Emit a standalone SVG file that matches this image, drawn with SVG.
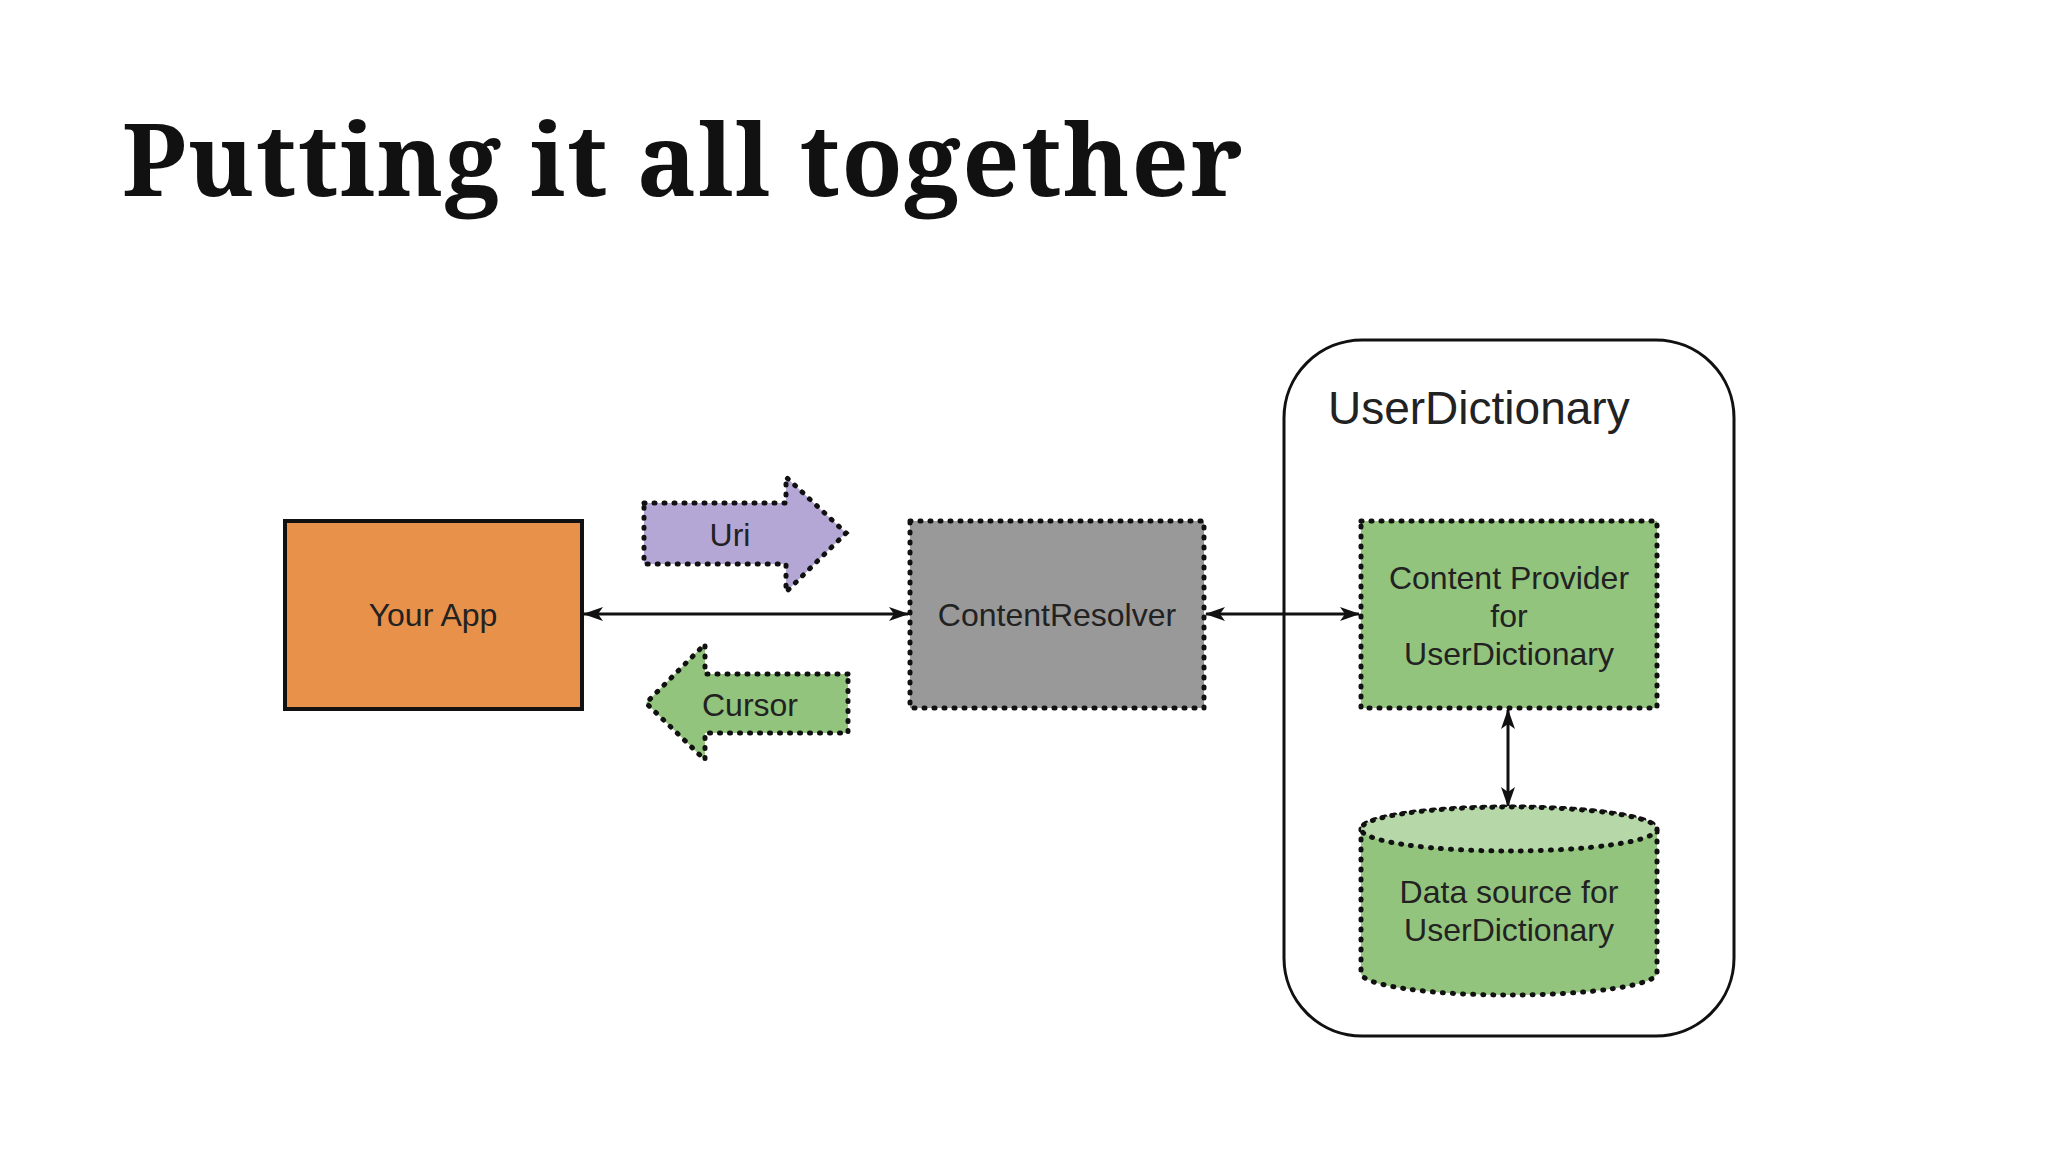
<svg xmlns="http://www.w3.org/2000/svg" width="2048" height="1152" viewBox="0 0 2048 1152">
<style>
.t{font-family:"Liberation Sans",Arial,sans-serif;font-size:32px;fill:#222;text-anchor:middle}
.dot{stroke:#111;stroke-width:5;stroke-dasharray:1 9;stroke-linecap:round}
.ln{stroke:#111;stroke-width:3;fill:none}
</style>
<defs>
<marker id="a" viewBox="0 0 20 16" refX="19" refY="8" markerWidth="20" markerHeight="16" orient="auto-start-reverse" markerUnits="userSpaceOnUse"><path d="M0,1 L20,8 L0,15 L5,8 z" fill="#111"/></marker>
</defs>
<rect width="2048" height="1152" fill="#fff"/>
<text x="122" y="196" font-family="'Noto Serif','DejaVu Serif',serif" font-weight="bold" font-size="100" letter-spacing="1.6" fill="#111">Putting it all together</text>
<g id="userdictionary">
<rect x="1284" y="340" width="450" height="696" rx="78" fill="#fff" stroke="#111" stroke-width="3"/>
<text x="1328" y="424" font-family="'Liberation Sans',Arial,sans-serif" font-size="46" fill="#222">UserDictionary</text>
</g>
<g id="yourapp">
<rect x="285" y="521" width="297" height="188" fill="#e8914a" stroke="#111" stroke-width="4"/>
<text class="t" x="433" y="626">Your App</text>
</g>
<g id="uri">
<path class="dot" d="M644,503 H786 V477 L846,533 L786,592 V564 H644 Z" fill="#b4a7d6"/>
<text class="t" x="730" y="546">Uri</text>
</g>
<g id="cursor">
<path class="dot" d="M848,674 H705 V644 L646,703 L705,760 V733 H848 Z" fill="#93c47d"/>
<text class="t" x="750" y="716" font-size="35">Cursor</text>
</g>
<g id="contentresolver">
<rect class="dot" x="910" y="521" width="294" height="187" fill="#999"/>
<text class="t" x="1057" y="626" font-size="30">ContentResolver</text>
</g>
<g id="provider">
<rect class="dot" x="1361" y="521" width="296" height="187" fill="#93c47d"/>
<text class="t" x="1509" y="589" font-size="30">Content Provider</text>
<text class="t" x="1509" y="627" font-size="30">for</text>
<text class="t" x="1509" y="665" font-size="30">UserDictionary</text>
</g>
<g id="datasource">
<path class="dot" d="M1361,829 V973 A148,22 0 0 0 1657,973 V829 A148,22 0 0 0 1361,829 Z" fill="#93c47d"/>
<ellipse class="dot" cx="1509" cy="829" rx="148" ry="22" fill="#b6d7a8"/>
<text class="t" x="1509" y="903" font-size="30">Data source for</text>
<text class="t" x="1509" y="941" font-size="30">UserDictionary</text>
</g>
<g id="connectors">
<line class="ln" x1="584" y1="614" x2="908" y2="614" marker-start="url(#a)" marker-end="url(#a)"/>
<line class="ln" x1="1206" y1="614" x2="1359" y2="614" marker-start="url(#a)" marker-end="url(#a)"/>
<line class="ln" x1="1508" y1="710" x2="1508" y2="806" marker-start="url(#a)" marker-end="url(#a)"/>
</g>
</svg>
